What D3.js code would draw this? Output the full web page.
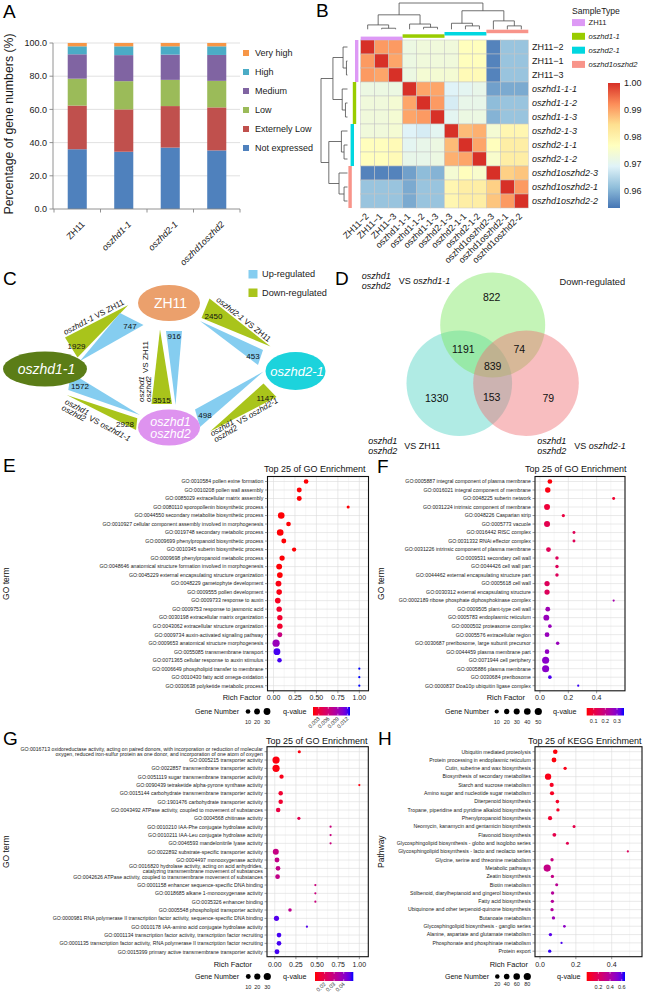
<!DOCTYPE html>
<html><head><meta charset="utf-8">
<script src="https://cdn.jsdelivr.net/npm/d3@7"></script>
<style>
html,body{margin:0;padding:0;background:#fff;}
svg{display:block;font-family:"Liberation Sans",Arial,Helvetica,sans-serif;}
</style></head>
<body>
<svg id="fig" width="645" height="992" viewBox="0 0 645 992"></svg>
<script>
// ================= DATA =================
// Panel A
const aCategories = ["ZH11","oszhd1-1","oszhd2-1","oszhd1oszhd2"];
const aLevels = ["Not expressed","Externely Low","Low","Medium","High","Very high"];
const aNotExpressed = [36.0,34.5,37.0,35.3];
const aExtLow = [26.3,25.5,25.0,25.9];
const aLow = [16.2,17.0,15.8,16.0];
const aMedium = [14.7,15.7,15.2,15.6];
const aHigh = [4.8,5.3,5.0,5.2];
const aVeryHigh = [2.0,2.0,2.0,2.0];
const aYTicks = [0,20,40,60,80,100];

// Panel B
const bSamples = ["ZH11\u22122","ZH11\u22121","ZH11\u22123","oszhd1-1-1","oszhd1-1-2","oszhd1-1-3","oszhd2-1-3","oszhd2-1-1","oszhd2-1-2","oszhd1oszhd2-3","oszhd1oszhd2-1","oszhd1oszhd2-2"];
const bGroupOf = [0,0,0,1,1,1,2,2,2,3,3,3];
const bGroupNames = ["ZH11","oszhd1-1","oszhd2-1","oszhd1oszhd2"];
const bCorr = [
 [1.000,0.991,0.991,0.972,0.973,0.973,0.973,0.977,0.977,0.955,0.962,0.962],
 [0.991,1.000,0.990,0.972,0.973,0.973,0.973,0.977,0.977,0.955,0.962,0.962],
 [0.991,0.990,1.000,0.972,0.974,0.974,0.974,0.978,0.978,0.955,0.962,0.962],
 [0.972,0.972,0.972,1.000,0.990,0.990,0.969,0.970,0.971,0.958,0.959,0.959],
 [0.973,0.973,0.974,0.990,1.000,0.991,0.968,0.971,0.971,0.961,0.962,0.962],
 [0.973,0.973,0.974,0.990,0.991,1.000,0.970,0.972,0.972,0.960,0.962,0.962],
 [0.973,0.973,0.974,0.969,0.968,0.970,1.000,0.988,0.989,0.974,0.979,0.979],
 [0.977,0.977,0.978,0.970,0.971,0.972,0.988,1.000,0.990,0.977,0.981,0.981],
 [0.977,0.977,0.978,0.971,0.971,0.972,0.989,0.990,1.000,0.975,0.981,0.981],
 [0.955,0.955,0.955,0.958,0.961,0.960,0.974,0.977,0.975,1.000,0.986,0.987],
 [0.962,0.962,0.962,0.959,0.962,0.962,0.979,0.981,0.981,0.986,1.000,0.991],
 [0.962,0.962,0.962,0.959,0.962,0.962,0.979,0.981,0.981,0.987,0.991,1.000]
];
const bColorTicks = [0.96,0.97,0.98,0.99,1.00];
const bColorDomain = [0.9535,1.0];
const bTree = {h:1,c:[{h:0.55,c:[{h:0.167,c:[0,{h:0.04,c:[1,2]}]},{h:0.2,c:[3,{h:0.077,c:[4,5]}]}]},
                      {h:0.705,c:[{h:0.23,c:[6,{h:0.13,c:[7,8]}]},{h:0.32,c:[9,{h:0.13,c:[10,11]}]}]}]};

// Panel C
const cComparisons = ["oszhd1-1 VS ZH11","oszhd2-1 VS ZH11","oszhd1oszhd2 VS ZH11","oszhd1oszhd2 VS oszhd1-1","oszhd1oszhd2 VS oszhd2-1"];
const cUp = [747,453,916,1572,498];
const cDown = [1929,2450,3515,2928,1147];

// Panel D
const dSetNames = ["oszhd1-1","ZH11","oszhd2-1"];
const dRegionKeys = ["A","AB","AC","ABC","B","BC","C"];
const dRegionCounts = [822,1191,74,839,1330,153,79];

// Panel E
const eTerms = ["GO:0010584 pollen exine formation","GO:0010208 pollen wall assembly","GO:0085029 extracellular matrix assembly","GO:0080110 sporopollenin biosynthetic process","GO:0044550 secondary metabolite biosynthetic process","GO:0010927 cellular component assembly involved in morphogenesis","GO:0019748 secondary metabolic process","GO:0009699 phenylpropanoid biosynthetic process","GO:0010345 suberin biosynthetic process","GO:0009698 phenylpropanoid metabolic process","GO:0048646 anatomical structure formation involved in morphogenesis","GO:0045229 external encapsulating structure organization","GO:0048229 gametophyte development","GO:0009555 pollen development","GO:0009733 response to auxin","GO:0009753 response to jasmonic acid","GO:0030198 extracellular matrix organization","GO:0043062 extracellular structure organization","GO:0009734 auxin-activated signaling pathway","GO:0009653 anatomical structure morphogenesis","GO:0055085 transmembrane transport","GO:0071365 cellular response to auxin stimulus","GO:0006649 phospholipid transfer to membrane","GO:0010430 fatty acid omega-oxidation","GO:0030638 polyketide metabolic process"];
const eRich = [0.38,0.30,0.30,0.87,0.09,0.175,0.078,0.12,0.24,0.10,0.066,0.074,0.058,0.066,0.05,0.066,0.074,0.074,0.074,0.03,0.04,0.07,1.0,1.0,1.0];
const eCount = [10,12,12,3,28,10,28,12,8,14,20,18,20,17,18,16,15,16,12,35,30,9,2,2,2];
const eQ = [0.0013,0.0013,0.0013,0.0013,0.0013,0.0013,0.0013,0.0013,0.0013,0.0013,0.0013,0.0013,0.0016,0.0016,0.002,0.0025,0.0025,0.0025,0.0065,0.0095,0.0122,0.0122,0.0128,0.0128,0.0128];
const eXTicks = [0,0.25,0.5,0.75,1.0];
const eSizeBreaks = [10,20,30];
const eQBreaks = [0.003,0.006,0.009,0.012];

// Panel F
const fTerms = ["GO:0005887 integral component of plasma membrane","GO:0016021 integral component of membrane","GO:0048225 suberin network","GO:0031224 intrinsic component of membrane","GO:0048226 Casparian strip","GO:0005773 vacuole","GO:0016442 RISC complex","GO:0031332 RNAi effector complex","GO:0031226 intrinsic component of plasma membrane","GO:0009531 secondary cell wall","GO:0044426 cell wall part","GO:0044462 external encapsulating structure part","GO:0005618 cell wall","GO:0030312 external encapsulating structure","GO:0002189 ribose phosphate diphosphokinase complex","GO:0009505 plant-type cell wall","GO:0005783 endoplasmic reticulum","GO:0000502 proteasome complex","GO:0005576 extracellular region","GO:0030687 preribosome, large subunit precursor","GO:0044459 plasma membrane part","GO:0071944 cell periphery","GO:0005886 plasma membrane","GO:0030684 preribosome","GO:0000837 Doa10p ubiquitin ligase complex"];
const fRich = [0.07,0.055,0.52,0.05,0.165,0.05,0.24,0.24,0.06,0.12,0.12,0.12,0.05,0.05,0.52,0.055,0.045,0.07,0.05,0.125,0.05,0.04,0.04,0.07,0.27];
const fCount = [14,22,3,30,4,30,3,3,15,5,5,5,20,20,2,15,28,6,15,5,13,48,48,6,2];
const fQ = [0.045,0.05,0.08,0.09,0.1,0.12,0.13,0.13,0.13,0.135,0.135,0.135,0.135,0.135,0.25,0.26,0.27,0.27,0.27,0.27,0.28,0.29,0.29,0.34,0.35];
const fXTicks = [0,0.2,0.4];
const fSizeBreaks = [10,20,30,40,50];
const fQBreaks = [0.1,0.2,0.3];

// Panel G
const gTerms = ["GO:0016713 oxidoreductase activity, acting on paired donors, with incorporation or reduction of molecular\noxygen, reduced iron-sulfur protein as one donor, and incorporation of one atom of oxygen","GO:0005215 transporter activity","GO:0022857 transmembrane transporter activity","GO:0051119 sugar transmembrane transporter activity","GO:0090439 tetraketide alpha-pyrone synthase activity","GO:0015144 carbohydrate transmembrane transporter activity","GO:1901476 carbohydrate transporter activity","GO:0043492 ATPase activity, coupled to movement of substances","GO:0004568 chitinase activity","GO:0010210 IAA-Phe conjugate hydrolase activity","GO:0010211 IAA-Leu conjugate hydrolase activity","GO:0046593 mandelonitrile lyase activity","GO:0022892 substrate-specific transporter activity","GO:0004497 monooxygenase activity","GO:0016820 hydrolase activity, acting on acid anhydrides,\ncatalyzing transmembrane movement of substances","GO:0042626 ATPase activity, coupled to transmembrane movement of substances","GO:0001158 enhancer sequence-specific DNA binding","GO:0018685 alkane 1-monooxygenase activity","GO:0035326 enhancer binding","GO:0005548 phospholipid transporter activity","GO:0000981 RNA polymerase II transcription factor activity, sequence-specific DNA binding","GO:0010178 IAA-amino acid conjugate hydrolase activity","GO:0001134 transcription factor activity, transcription factor recruiting","GO:0001135 transcription factor activity, RNA polymerase II transcription factor recruiting","GO:0015399 primary active transmembrane transporter activity"];
const gRich = [0.29,0.015,0.015,0.08,1.0,0.07,0.07,0.04,0.285,0.66,0.66,0.66,0.012,0.026,0.038,0.033,0.48,0.48,0.48,0.18,0.02,0.38,0.05,0.05,0.026];
const gCount = [3,30,30,7,2,8,8,8,3,2,2,2,18,10,9,9,2,2,2,4,12,2,9,9,10];
const gQ = [0.011,0.011,0.011,0.012,0.011,0.015,0.015,0.018,0.02,0.028,0.028,0.028,0.029,0.03,0.03,0.03,0.028,0.028,0.028,0.031,0.047,0.047,0.048,0.048,0.048];
const gXTicks = [0,0.25,0.5,0.75,1.0];
const gSizeBreaks = [10,20,30];
const gQBreaks = [0.02,0.03,0.04];

// Panel H
const hTerms = ["Ubiquitin mediated proteolysis","Protein processing in endoplasmic reticulum","Cutin, suberine and wax biosynthesis","Biosynthesis of secondary metabolites","Starch and sucrose metabolism","Amino sugar and nucleotide sugar metabolism","Diterpenoid biosynthesis","Tropane, piperidine and pyridine alkaloid biosynthesis","Phenylpropanoid biosynthesis","Neomycin, kanamycin and gentamicin biosynthesis","Flavonoid biosynthesis","Glycosphingolipid biosynthesis - globo and isoglobo series","Glycosphingolipid biosynthesis - lacto and neolacto series","Glycine, serine and threonine metabolism","Metabolic pathways","Zeatin biosynthesis","Biotin metabolism","Stilbenoid, diarylheptanoid and gingerol biosynthesis","Fatty acid biosynthesis","Ubiquinone and other terpenoid-quinone biosynthesis","Butanoate metabolism","Glycosphingolipid biosynthesis - ganglio series","Alanine, aspartate and glutamate metabolism","Phosphonate and phosphinate metabolism","Protein export"];
const hRich = [0.085,0.078,0.14,0.045,0.065,0.067,0.097,0.1,0.056,0.19,0.08,0.153,0.49,0.067,0.04,0.069,0.093,0.07,0.069,0.067,0.075,0.136,0.058,0.12,0.054];
const hCount = [21,25,8,55,16,16,10,8,16,6,12,6,4,8,80,8,6,8,8,8,8,5,8,4,8];
const hQ = [0.01,0.01,0.03,0.03,0.05,0.05,0.06,0.06,0.08,0.15,0.15,0.17,0.2,0.3,0.32,0.32,0.36,0.38,0.38,0.38,0.45,0.5,0.6,0.62,0.64];
const hXTicks = [0,0.2,0.4];
const hSizeBreaks = [20,40,60,80];
const hQBreaks = [0.2,0.4,0.6];

// ================= DRAWING =================
const svg = d3.select("#fig");
const defs = svg.append("defs");
const TXT = "#1a1a1a";

// Panel letters
[["A",3,18],["B",316,17],["C",3,285],["D",335,285],["E",3,472],["F",377,473],["G",3,745],["H",378,745]]
  .forEach(([t,x,y])=>svg.append("text").attr("x",x).attr("y",y).attr("font-size",19).attr("fill","#000").text(t));

// two-line "oszhd1 / oszhd2" block followed by "VS target"
function stackLabel(parent,x,y,rot,fs,gap,vsOff,target,tIt){
  const s = parent.append("g").attr("transform",`translate(${x},${y}) rotate(${rot})`).attr("font-size",fs).attr("fill","#111");
  const st = s.append("text").attr("font-style","italic").attr("y",-gap/2+fs*0.35);
  st.append("tspan").attr("x",0).text("oszhd1");
  st.append("tspan").attr("x",0).attr("dy",gap).text("oszhd2");
  const t = s.append("text").attr("x",vsOff).attr("y",fs*0.35).text("VS ");
  t.append("tspan").attr("font-style",tIt?"italic":"normal").text(target);
}

// ---------- Panel A ----------
(function(){
  const g = svg.append("g");
  const y = d3.scaleLinear().domain([0,100]).range([209,43]);
  const x = d3.scaleBand().domain(aCategories).range([54,240]).paddingInner(0.59).paddingOuter(0.295);
  const colors = ["#4F81BD","#C0504D","#9BBB59","#8064A2","#4BACC6","#F79646"];
  g.append("g").selectAll("line").data(aYTicks.filter(d=>d>0)).join("line")
    .attr("x1",53).attr("x2",240).attr("y1",d=>y(d)).attr("y2",d=>y(d))
    .attr("stroke","#d9d9d9").attr("stroke-width",0.8);
  const series = [aNotExpressed,aExtLow,aLow,aMedium,aHigh,aVeryHigh];
  const rows = aCategories.map((c,i)=>{const o={cat:c}; aLevels.forEach((l,j)=>o[l]=series[j][i]); return o;});
  const st = d3.stack().keys(aLevels)(rows);
  st.forEach((s,j)=>g.append("g").attr("fill",colors[j]).selectAll("rect").data(s).join("rect")
    .attr("x",d=>x(d.data.cat)).attr("width",x.bandwidth())
    .attr("y",d=>y(d[1])).attr("height",d=>y(d[0])-y(d[1])));
  g.append("line").attr("x1",53).attr("x2",53).attr("y1",y(0)).attr("y2",y(100)).attr("stroke","#868686").attr("stroke-width",0.9);
  g.append("line").attr("x1",53).attr("x2",240).attr("y1",y(0)).attr("y2",y(0)).attr("stroke","#868686").attr("stroke-width",0.9);
  g.append("g").selectAll("line").data(aYTicks).join("line").attr("x1",49.5).attr("x2",53).attr("y1",d=>y(d)).attr("y2",d=>y(d)).attr("stroke","#868686").attr("stroke-width",0.9);
  g.append("g").attr("font-size",9).attr("fill",TXT).attr("text-anchor","end").selectAll("text").data(aYTicks).join("text")
    .attr("x",47).attr("y",d=>y(d)+3.2).text(d=>d3.format(".1f")(d));
  const step = x.step();
  g.append("g").selectAll("line").data(d3.range(aCategories.length+1)).join("line")
    .attr("x1",k=>54+k*step).attr("x2",k=>54+k*step).attr("y1",y(0)).attr("y2",y(0)+3.5).attr("stroke","#868686").attr("stroke-width",0.9);
  g.append("g").attr("font-size",9).attr("fill",TXT).attr("text-anchor","end").selectAll("text").data(aCategories).join("text")
    .attr("transform",d=>`translate(${x(d)+x.bandwidth()/2+8},${225}) rotate(-45)`)
    .attr("font-style",(d,i)=>i===0?"normal":"italic").text(d=>d);
  g.append("text").attr("transform","translate(13,124) rotate(-90)").attr("text-anchor","middle").attr("font-size",12.3).attr("fill",TXT).text("Percentage of gene numbers (%)");
  const leg = aLevels.slice().reverse();
  const legCol = colors.slice().reverse();
  leg.forEach((l,k)=>{
    const yy = 53 + k*19;
    g.append("rect").attr("x",243).attr("y",yy-3).attr("width",6).attr("height",6).attr("fill",legCol[k]);
    g.append("text").attr("x",255).attr("y",yy+3.2).attr("font-size",9).attr("fill",TXT).text(l);
  });
})();

// ---------- Panel B ----------
(function(){
  const g = svg.append("g");
  const n = bSamples.length;
  const x = d3.scaleBand().domain(d3.range(n)).range([360.7,528.3]);
  const y = d3.scaleBand().domain(d3.range(n)).range([40,208]);
  const stops = ["#4575B4","#91BFDB","#E0F3F8","#FFFFBF","#FEE090","#FC8D59","#D73027"];
  const col = d3.scaleLinear().domain(d3.range(7).map(i=>bColorDomain[0]+i*(bColorDomain[1]-bColorDomain[0])/6)).range(stops).clamp(true);
  const cells = [];
  bCorr.forEach((r,i)=>r.forEach((v,j)=>cells.push({i,j,v})));
  g.append("g").selectAll("rect").data(cells).join("rect")
    .attr("x",d=>x(d.j)).attr("y",d=>y(d.i)).attr("width",x.bandwidth()).attr("height",y.bandwidth())
    .attr("fill",d=>col(d.v)).attr("stroke","#c4c4c4").attr("stroke-width",0.5);
  const gCols = ["#DD99F5","#99CC00","#00D7E0","#F8948A"];
  [0,1,2,3].forEach(k=>{
    g.append("rect").attr("x",x(k*3)).attr("width",x.bandwidth()*3).attr("y",36.6-2.3*k).attr("height",3.5).attr("fill",gCols[k]);
    g.append("rect").attr("y",y(k*3)).attr("height",y.bandwidth()*3).attr("x",355-2.2*k).attr("width",3.4).attr("fill",gCols[k]);
  });
  function drawTree(node, pos, hs, vertical, out){
    if (typeof node === "number") return {p:pos(node), h:0};
    const a = drawTree(node.c[0],pos,hs,vertical,out), b = drawTree(node.c[1],pos,hs,vertical,out);
    if (vertical) out.push(`M${a.p},${hs(a.h)}V${hs(node.h)}H${b.p}V${hs(b.h)}`);
    else out.push(`M${hs(a.h)},${a.p}H${hs(node.h)}V${b.p}H${hs(b.h)}`);
    return {p:(a.p+b.p)/2, h:node.h};
  }
  const top=[], left=[];
  drawTree(bTree, i=>x(i)+x.bandwidth()/2, d3.scaleLinear().domain([0,1]).range([29.3,3]), true, top);
  drawTree(bTree, i=>y(i)+y.bandwidth()/2, d3.scaleLinear().domain([0,1]).range([347.5,321]), false, left);
  g.append("path").attr("d",top.join("")+left.join("")).attr("fill","none").attr("stroke","#4d4d4d").attr("stroke-width",0.8);
  g.append("g").attr("font-size",9).attr("fill",TXT).selectAll("text").data(bSamples).join("text")
    .attr("x",532).attr("y",(d,i)=>y(i)+y.bandwidth()/2+3.2)
    .attr("font-style",(d,i)=>bGroupOf[i]===0?"normal":"italic").text(d=>d);
  g.append("g").attr("font-size",9).attr("fill",TXT).attr("text-anchor","end").selectAll("text").data(bSamples).join("text")
    .attr("transform",(d,i)=>`translate(${x(i)+x.bandwidth()/2+1.5},217) rotate(-45)`).text(d=>d);
  g.append("text").attr("x",572).attr("y",14).attr("font-size",8.6).attr("fill",TXT).text("SampleType");
  const ly = [22.6,36.3,50.2,64.4];
  bGroupNames.forEach((nm,k)=>{
    g.append("rect").attr("x",572).attr("y",ly[k]-3.5).attr("width",13).attr("height",7).attr("fill",gCols[k]);
    g.append("text").attr("x",588.5).attr("y",ly[k]+2.7).attr("font-size",7.6).attr("fill",TXT).attr("font-style",k===0?"normal":"italic").text(nm);
  });
  const lg = defs.append("linearGradient").attr("id","bgrad").attr("x1",0).attr("y1",1).attr("x2",0).attr("y2",0);
  stops.forEach((c,i)=>lg.append("stop").attr("offset",i/6).attr("stop-color",c));
  const cy = d3.scaleLinear().domain(bColorDomain).range([208,83]);
  g.append("rect").attr("x",608).attr("y",cy(bColorDomain[1])).attr("width",12).attr("height",cy(bColorDomain[0])-cy(bColorDomain[1])).attr("fill","url(#bgrad)");
  g.append("g").attr("font-size",9).attr("fill",TXT).selectAll("text").data(bColorTicks).join("text")
    .attr("x",624).attr("y",d=>cy(d)+3.2).text(d=>d3.format(".2f")(d));
})();

// ---------- Panel C ----------
(function(){
  const g = svg.append("g");
  const nodeLayout = [
    {lines:["ZH11"], italic:false, x:169, y:303, rx:31, ry:18, fill:"#EBA06C", fs:14},
    {lines:["oszhd1-1"], italic:true, x:45, y:369, rx:42, ry:17.5, fill:"#5B7D17", fs:14},
    {lines:["oszhd2-1"], italic:true, x:295.5, y:371, rx:30, ry:19, fill:"#1CD3DC", fs:13},
    {lines:["oszhd1","oszhd2"], italic:true, x:169, y:427.5, rx:31, ry:18, fill:"#DE93EF", fs:12.5}
  ];
  const triLayout = [
    {up:[[80,361],[120,313],[143.5,325]], upLab:[130,326], down:[[128.3,305],[65,337.5],[77.5,357.5]], downLab:[76.5,346.5]},
    {up:[[200,321],[263,350],[258,365]], upLab:[253,356.5], down:[[209.5,298.5],[201.5,318],[270.5,346.5]], downLab:[213.5,316]},
    {up:[[166,331],[182,331],[175.5,405]], upLab:[174.3,336.5], down:[[160,329.5],[151.5,404],[172,404]], downLab:[161.7,400]},
    {up:[[70.7,372.7],[68.3,390],[140,415]], upLab:[80,386.5], down:[[66.7,395],[137.3,418.3],[136,430]], downLab:[125,424]},
    {up:[[263.5,371.5],[195,409.5],[200,427]], upLab:[205,415], down:[[263.5,383.5],[276.5,397],[210,431.5]], downLab:[265,398.5]}
  ];
  const upCol = "#85CDF0", downCol = "#A9C41B";
  triLayout.forEach((t,i)=>{
    g.append("polygon").attr("points",t.down.map(p=>p.join(",")).join(" ")).attr("fill",downCol);
    g.append("polygon").attr("points",t.up.map(p=>p.join(",")).join(" ")).attr("fill",upCol);
    g.append("text").attr("x",t.downLab[0]).attr("y",t.downLab[1]+2.8).attr("text-anchor","middle").attr("font-size",8).attr("fill","#111").text(cDown[i]);
    g.append("text").attr("x",t.upLab[0]).attr("y",t.upLab[1]+2.8).attr("text-anchor","middle").attr("font-size",8).attr("fill","#111").text(cUp[i]);
  });
  nodeLayout.forEach(nd=>{
    g.append("ellipse").attr("cx",nd.x).attr("cy",nd.y).attr("rx",nd.rx).attr("ry",nd.ry).attr("fill",nd.fill);
    const t = g.append("text").attr("text-anchor","middle").attr("font-size",nd.fs).attr("fill","#fff").attr("font-style",nd.italic?"italic":"normal")
      .attr("y",nd.y+nd.fs*0.36-(nd.lines.length-1)/2*nd.fs);
    nd.lines.forEach((l,k)=>t.append("tspan").attr("x",nd.x+1.5).attr("dy",k===0?0:nd.fs).text(l));
  });
  function lineLabel(x,y,rot,parts){
    const t = g.append("text").attr("transform",`translate(${x},${y}) rotate(${rot})`).attr("text-anchor","middle").attr("font-size",8).attr("fill","#111");
    parts.forEach(([s,it])=>t.append("tspan").attr("font-style",it?"italic":"normal").text(s));
  }
  const p0 = cComparisons[0].split(" VS "), p1 = cComparisons[1].split(" VS ");
  lineLabel(95,319.5,-27.5,[[p0[0],true],[" VS "+p0[1],false]]);
  lineLabel(242,321.5,38.5,[[p1[0],true],[" VS "+p1[1],false]]);
  stackLabel(g,145,402,-90,8,7,29,cComparisons[2].split(" VS ")[1],false);
  stackLabel(g,64,404,28,8,7,29,cComparisons[3].split(" VS ")[1],true);
  stackLabel(g,212.5,437,-30,8,7,29,cComparisons[4].split(" VS ")[1],true);
  g.append("rect").attr("x",248.5).attr("y",270).attr("width",9).attr("height",8.5).attr("fill",upCol);
  g.append("text").attr("x",262).attr("y",277.3).attr("font-size",9.2).attr("fill",TXT).text("Up-regulated");
  g.append("rect").attr("x",248.5).attr("y",288.5).attr("width",9).attr("height",8.5).attr("fill",downCol);
  g.append("text").attr("x",262).attr("y",296).attr("font-size",9.2).attr("fill",TXT).text("Down-regulated");
})();

// ---------- Panel D ----------
(function(){
  const g = svg.append("g");
  const circ = {A:{cx:492.7,cy:325,r:52.5,fill:"rgb(125,230,95)"},B:{cx:459.3,cy:383.3,r:52.8,fill:"rgb(80,210,195)"},C:{cx:526,cy:383.3,r:52.8,fill:"rgb(240,110,115)"}};
  ["B","A","C"].forEach(k=>g.append("circle").attr("cx",circ[k].cx).attr("cy",circ[k].cy).attr("r",circ[k].r).attr("fill",circ[k].fill).attr("fill-opacity",0.45));
  const pos = {A:[491.7,297.3],AB:[463.3,349.3],AC:[519.3,349.3],ABC:[492.7,366.7],B:[436.7,398.3],BC:[491.7,397.3],C:[548.3,398.3]};
  dRegionKeys.forEach((k,i)=>g.append("text").attr("x",pos[k][0]).attr("y",pos[k][1]+3.7).attr("text-anchor","middle").attr("font-size",10.5).attr("fill","#111").text(dRegionCounts[i]));
  stackLabel(g,361.7,281,0,9,10.4,37,dSetNames[0],true);
  stackLabel(g,368.3,446,0,9,10.4,36,dSetNames[1],false);
  stackLabel(g,537.3,446,0,9,10.4,37,dSetNames[2],true);
  g.append("text").attr("x",559.5).attr("y",285).attr("font-size",9.3).attr("fill",TXT).text("Down-regulated");
})();

// ---------- Bubble charts (E–H) ----------
function bubble(o){
  const g = svg.append("g");
  const n = o.terms.length;
  const x = d3.scaleLinear().domain(o.xDomain).range([o.left,o.right]);
  const y = d3.scalePoint().domain(d3.range(n)).range([o.row1,o.rowN]);
  const col = d3.scaleLinear().domain(o.qDomain).range(["red","blue"]).interpolate(d3.interpolateLab).clamp(true);
  const sz = d3.scaleLinear().domain([0,1]).range(o.rRange);
  const rad = v => sz(Math.sqrt(Math.max(0,(v-o.nDomain[0])/(o.nDomain[1]-o.nDomain[0]))));
  const minor = o.xTicks.slice(0,-1).map((d,i)=>(d+o.xTicks[i+1])/2);
  const last = o.xTicks[o.xTicks.length-1], stepT = o.xTicks[1]-o.xTicks[0];
  if (x(last+stepT/2) < o.right) minor.push(last+stepT/2);
  g.append("g").selectAll("line").data(minor).join("line")
    .attr("x1",d=>x(d)).attr("x2",d=>x(d)).attr("y1",o.top).attr("y2",o.bottom).attr("stroke","#ededed").attr("stroke-width",0.45);
  g.append("g").selectAll("line").data(o.xTicks).join("line")
    .attr("x1",d=>x(d)).attr("x2",d=>x(d)).attr("y1",o.top).attr("y2",o.bottom).attr("stroke","#dcdcdc").attr("stroke-width",0.6);
  g.append("g").selectAll("line").data(d3.range(n)).join("line")
    .attr("x1",o.left).attr("x2",o.right).attr("y1",i=>y(i)).attr("y2",i=>y(i)).attr("stroke","#dcdcdc").attr("stroke-width",0.6);
  g.append("g").selectAll("circle").data(d3.range(n)).join("circle")
    .attr("cx",i=>x(o.rich[i])).attr("cy",i=>y(i)).attr("r",i=>rad(o.count[i])).attr("fill",i=>col(o.q[i]));
  g.append("rect").attr("x",o.left).attr("y",o.top).attr("width",o.right-o.left).attr("height",o.bottom-o.top)
    .attr("fill","none").attr("stroke","#111").attr("stroke-width",1.1);
  g.append("g").selectAll("line").data(d3.range(n)).join("line")
    .attr("x1",o.left-2.5).attr("x2",o.left).attr("y1",i=>y(i)).attr("y2",i=>y(i)).attr("stroke","#333").attr("stroke-width",0.5);
  const yl = g.append("g").attr("font-size",5.2).attr("fill","#222").attr("text-anchor","end");
  o.terms.forEach((t,i)=>{
    const lines = t.split("\n");
    const te = yl.append("text").attr("y",y(i)-(lines.length-1)*2.3+1.85);
    lines.forEach((l,k)=>te.append("tspan").attr("x",o.left-4.2).attr("dy",k===0?0:4.6).text(l));
  });
  g.append("g").selectAll("line").data(o.xTicks).join("line")
    .attr("x1",d=>x(d)).attr("x2",d=>x(d)).attr("y1",o.bottom).attr("y2",o.bottom+2.5).attr("stroke","#333").attr("stroke-width",0.5);
  g.append("g").attr("font-size",7).attr("fill","#222").attr("text-anchor","middle").selectAll("text").data(o.xTicks).join("text")
    .attr("x",d=>x(d)).attr("y",o.axY).text(d3.format(o.fmt));
  g.append("text").attr("x",o.rfX).attr("y",o.axY).attr("text-anchor","end").attr("font-size",7.5).attr("fill","#111").text("Rich Factor");
  g.append("text").attr("x",o.titleX).attr("y",o.titleY).attr("font-size",9).attr("fill","#111").text(o.title);
  g.append("text").attr("transform",`translate(${o.ylabX},${(o.top+o.bottom)/2}) rotate(-90)`).attr("text-anchor","middle").attr("font-size",8.5).attr("fill","#111").text(o.ylab);
  g.append("text").attr("x",o.geneX).attr("y",o.legY+2.5).attr("text-anchor","end").attr("font-size",7).attr("fill","#111").text("Gene Number");
  o.sizeBreaks.forEach((v,k)=>{
    g.append("circle").attr("cx",o.geneXs[k]).attr("cy",o.legY).attr("r",rad(v)).attr("fill","#000");
    g.append("text").attr("x",o.geneXs[k]).attr("y",o.geneLabY).attr("text-anchor","middle").attr("font-size",5.5).attr("fill","#222").text(v);
  });
  g.append("text").attr("x",o.qX).attr("y",o.legY+2.5).attr("font-size",7.2).attr("fill","#111").text("q-value");
  const gid = "grad"+o.id;
  const lg = defs.append("linearGradient").attr("id",gid).attr("x1",0).attr("x2",1).attr("y1",0).attr("y2",0);
  d3.range(0,1.0001,0.1).forEach(t=>lg.append("stop").attr("offset",t).attr("stop-color",col(o.qDomain[0]+t*(o.qDomain[1]-o.qDomain[0]))));
  const cb = o.cbar;
  g.append("rect").attr("x",cb[0]).attr("y",cb[2]).attr("width",cb[1]-cb[0]).attr("height",cb[3]-cb[2]).attr("fill",`url(#${gid})`);
  const cx = d3.scaleLinear().domain(o.qDomain).range([cb[0],cb[1]]);
  g.append("g").selectAll("path").data(o.qBreaks).join("path")
    .attr("d",d=>`M${cx(d)},${cb[2]}v1.8M${cx(d)},${cb[3]}v-1.8`).attr("stroke","#fff").attr("stroke-width",0.5);
  const lab = g.append("g").attr("font-size",5.5).attr("fill","#222");
  if (o.qRot) {
    lab.attr("text-anchor","end").selectAll("text").data(o.qBreaks).join("text")
      .attr("transform",d=>`translate(${cx(d)+1.5},${cb[3]+3.5}) rotate(-45)`).text(d3.format(o.qFmt));
  } else {
    lab.attr("text-anchor","middle").selectAll("text").data(o.qBreaks).join("text")
      .attr("x",d=>cx(d)).attr("y",cb[3]+7.5).text(d3.format(o.qFmt));
  }
}

bubble({id:"E",terms:eTerms,rich:eRich,count:eCount,q:eQ,
  left:267.5,right:368.5,top:476.5,bottom:690.8,row1:481.5,rowN:685.7,
  xDomain:[-0.07,1.107],xTicks:eXTicks,fmt:".2f",nDomain:[2,35],rRange:[1.1,3.6],qDomain:[0.0012,0.0128],
  title:"Top 25 of GO Enrichment",titleX:264,titleY:472,ylab:"GO term",ylabX:8.5,rfX:261,axY:700,
  legY:711.5,geneX:239,sizeBreaks:eSizeBreaks,geneXs:[248,257,267],geneLabY:723.5,
  qX:283,cbar:[313,350,707,715.5],qBreaks:eQBreaks,qFmt:".3f",qRot:true});

bubble({id:"F",terms:fTerms,rich:fRich,count:fCount,q:fQ,
  left:535,right:625,top:476.5,bottom:690.8,row1:481.5,rowN:685.7,
  xDomain:[-0.035,0.6],xTicks:fXTicks,fmt:".1f",nDomain:[2,50],rRange:[1.1,3.6],qDomain:[0.04,0.36],
  title:"Top 25 of GO Enrichment",titleX:525,titleY:472,ylab:"GO term",ylabX:384,rfX:525,axY:700,
  legY:711.5,geneX:489,sizeBreaks:fSizeBreaks,geneXs:[496.7,506.7,516.7,527.3,538.3],geneLabY:723.5,
  qX:553,cbar:[586.7,624,708,715.5],qBreaks:fQBreaks,qFmt:".1f",qRot:false});

bubble({id:"G",terms:gTerms,rich:gRich,count:gCount,q:gQ,
  left:267,right:368.3,top:746.7,bottom:956.7,row1:751.7,rowN:951.7,
  xDomain:[-0.092,1.106],xTicks:gXTicks,fmt:".2f",nDomain:[2,30],rRange:[1.1,3.6],qDomain:[0.01,0.05],
  title:"Top 25 of GO Enrichment",titleX:266,titleY:744,ylab:"GO term",ylabX:8.5,rfX:252,axY:966.5,
  legY:976.5,geneX:239,sizeBreaks:gSizeBreaks,geneXs:[248.3,257.3,267.3],geneLabY:988.5,
  qX:283,cbar:[315,353.3,972,981],qBreaks:gQBreaks,qFmt:".2f",qRot:true});

bubble({id:"H",terms:hTerms,rich:hRich,count:hCount,q:hQ,
  left:535,right:642,top:746.7,bottom:956.7,row1:751.7,rowN:951.2,
  xDomain:[-0.028,0.569],xTicks:hXTicks,fmt:".1f",nDomain:[4,80],rRange:[1.1,3.6],qDomain:[0.0,0.656],
  title:"Top 25 of KEGG Enrichment",titleX:528,titleY:744,ylab:"Pathway",ylabX:384,rfX:528,axY:966.5,
  legY:976.5,geneX:489,sizeBreaks:hSizeBreaks,geneXs:[497.3,506.7,516.7,527.3],geneLabY:986,
  qX:557,cbar:[586.7,625,972,981],qBreaks:hQBreaks,qFmt:".1f",qRot:false});
</script>
</body></html>
